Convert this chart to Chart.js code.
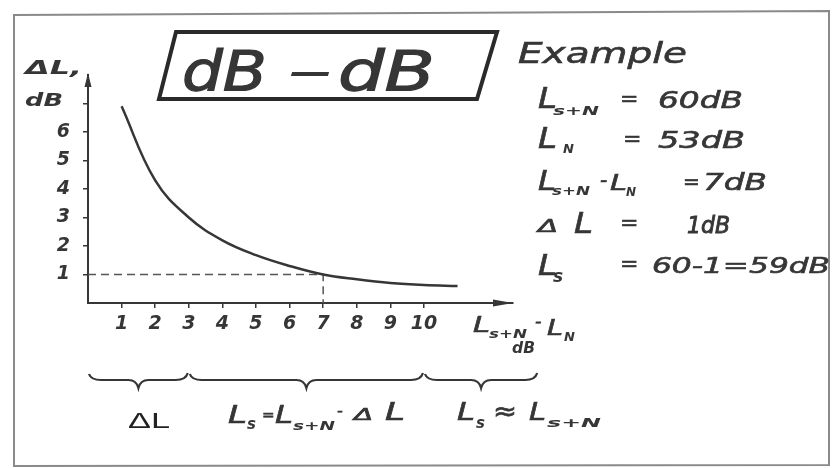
<!DOCTYPE html>
<html>
<head>
<meta charset="utf-8">
<script src="https://cdn.jsdelivr.net/npm/chart.js@4"></script>
<style>
  html, body { margin: 0; background: #fff; }
</style>
</head>
<body>
<canvas id="chart" width="832" height="468"></canvas>
<script>
// level difference L(s+N) - L(N), dB
const levelDiff = [1, 2, 3, 4, 5, 6, 7, 8, 9, 10, 11];
// correction ΔL to subtract from L(s+N), dB
const correction = [6.9, 4.3, 3.0, 2.2, 1.68, 1.3, 1.0, 0.83, 0.7, 0.63, 0.6];

const xTicks = [1, 2, 3, 4, 5, 6, 7, 8, 9, 10];
const yTicks = [1, 2, 3, 4, 5, 6, 7];
const yTickLabels = ['1', '2', '3', '4', '5', '6', ''];

// worked example: 60 dB - 53 dB = 7 dB  ->  ΔL = 1 dB
const exampleDiff = 7;
const exampleCorrection = 1;

// regions marked with braces under the x axis
const braceRanges = [[0, 3], [3, 10], [10, 13.4]];

const ink = '#363636';
const tickFont = { family: 'DejaVu Sans', style: 'italic', weight: 'bold', size: 19 };

// draw text, optionally squeezed/stretched to a given width
function put(ctx, s, x, y, size, o = {}) {
  ctx.font = (o.upright ? '' : 'italic ') + (o.bold ? 'bold ' : '') + size + 'px ' + (o.family || 'DejaVu Sans');
  ctx.fillStyle = o.color || ink;
  ctx.strokeStyle = o.color || ink;
  ctx.textAlign = 'left';
  ctx.textBaseline = 'alphabetic';
  ctx.save();
  ctx.translate(x, y);
  if (o.w) ctx.scale(o.w / ctx.measureText(s).width, 1);
  ctx.fillText(s, 0, 0);
  const thick = o.thick === undefined ? (o.bold || o.upright ? 0 : 0.6) : o.thick;
  if (thick) {
    ctx.lineWidth = thick;
    ctx.strokeText(s, 0, 0);
  }
  ctx.restore();
}

function brace(ctx, x1, x2, y) {
  const m = (x1 + x2) / 2;
  ctx.beginPath();
  ctx.moveTo(x1, y - 6);
  ctx.quadraticCurveTo(x1 + 2, y, x1 + 12, y);
  ctx.lineTo(m - 10, y);
  ctx.quadraticCurveTo(m - 2, y, m, y + 8);
  ctx.quadraticCurveTo(m + 2, y, m + 10, y);
  ctx.lineTo(x2 - 12, y);
  ctx.quadraticCurveTo(x2 - 2, y, x2, y - 7);
  ctx.stroke();
}

const sketch = {
  id: 'sketch',
  afterDraw(chart) {
    const ctx = chart.ctx;
    const xs = chart.scales.x, ys = chart.scales.y;
    const x0 = xs.getPixelForValue(0), y0 = ys.getPixelForValue(0);

    ctx.save();
    // outer frame
    ctx.strokeStyle = '#8a8a8a';
    ctx.lineWidth = 2;
    ctx.beginPath();
    ctx.moveTo(14, 15); ctx.lineTo(829, 11); ctx.lineTo(829, 465); ctx.lineTo(14, 466); ctx.closePath();
    ctx.stroke();

    // axis arrows
    ctx.fillStyle = ink;
    ctx.beginPath();
    ctx.moveTo(xs.right, y0); ctx.lineTo(xs.right - 20, y0 - 3.5); ctx.lineTo(xs.right - 20, y0 + 3.5); ctx.closePath();
    ctx.fill();
    ctx.beginPath();
    ctx.moveTo(x0, ys.top - 2); ctx.lineTo(x0 - 3.5, ys.top + 12); ctx.lineTo(x0 + 3.5, ys.top + 12); ctx.closePath();
    ctx.fill();

    // title box
    ctx.strokeStyle = '#2a2a2a';
    ctx.lineWidth = 4;
    ctx.beginPath();
    ctx.moveTo(176, 32); ctx.lineTo(497, 32); ctx.lineTo(477, 99); ctx.lineTo(159, 99); ctx.closePath();
    ctx.stroke();
    put(ctx, 'dB', 182, 90, 56, { w: 85, thick: 1.2 });
    put(ctx, '–', 287, 89, 56, { w: 46, thick: 0 });
    put(ctx, 'dB', 338, 90, 56, { w: 97, thick: 1.2 });

    // axis titles
    put(ctx, 'ΔL,', 25, 74, 19, { bold: true, w: 57 });
    put(ctx, 'dB', 25, 106, 18, { bold: true, w: 38 });
    put(ctx, 'L', 473, 332, 21, { w: 17 });
    put(ctx, 's+N', 489, 338, 12, { bold: true, w: 38 });
    put(ctx, '-', 535, 327, 18);
    put(ctx, 'L', 547, 335, 21, { w: 16 });
    put(ctx, 'N', 564, 341, 13, { bold: true });
    put(ctx, 'dB', 512, 353, 15, { bold: true, w: 23 });

    // worked example
    put(ctx, 'Example', 518, 63, 28, { w: 169 });
    put(ctx, 'L', 538, 108, 28, { w: 19 });
    put(ctx, 's+N', 553, 115, 13, { bold: true, w: 46 });
    put(ctx, '=', 620, 106, 22);
    put(ctx, '60dB', 658, 108, 23, { w: 85 });

    put(ctx, 'L', 538, 148, 28, { w: 19 });
    put(ctx, 'N', 563, 153, 13, { bold: true });
    put(ctx, '=', 623, 146, 22);
    put(ctx, '53dB', 658, 148, 23, { w: 87 });

    put(ctx, 'L', 538, 190, 26, { w: 18 });
    put(ctx, 's+N', 552, 195, 12, { bold: true, w: 38 });
    put(ctx, '-', 600, 187, 20);
    put(ctx, 'L', 610, 190, 22, { w: 17 });
    put(ctx, 'N', 626, 196, 12, { bold: true });
    put(ctx, '=', 683, 188, 20);
    put(ctx, '7dB', 703, 190, 23, { w: 64 });

    put(ctx, 'Δ', 538, 232, 17, { w: 20 });
    put(ctx, 'L', 574, 233, 28, { w: 19 });
    put(ctx, '=', 620, 230, 22);
    put(ctx, '1dB', 687, 233, 23, { w: 43, thick: 0.9 });

    put(ctx, 'L', 538, 275, 28, { w: 19 });
    put(ctx, 's', 553, 282, 17, { bold: true });
    put(ctx, '=', 620, 271, 22);
    put(ctx, '60-1=59dB', 652, 273, 22, { w: 178 });

    // braces and what each region means
    ctx.strokeStyle = ink;
    ctx.lineWidth = 2.2;
    braceRanges.forEach(([a, b]) => brace(ctx, xs.getPixelForValue(a) + 1, xs.getPixelForValue(b) - 1, 380));

    put(ctx, 'ΔL', 128, 428, 22, { upright: true, family: 'Liberation Sans', color: '#222', w: 42 });

    put(ctx, 'L', 228, 423, 24, { w: 19 });
    put(ctx, 's', 247, 429, 15, { bold: true });
    put(ctx, '=', 262, 420, 15);
    put(ctx, 'L', 275, 423, 24, { w: 18 });
    put(ctx, 's+N', 293, 430, 13, { bold: true, w: 42 });
    put(ctx, '-', 337, 416, 16);
    put(ctx, 'Δ', 354, 420, 16, { w: 19 });
    put(ctx, 'L', 385, 420, 24, { w: 20 });

    put(ctx, 'L', 457, 420, 24, { w: 18 });
    put(ctx, 's', 476, 428, 15, { bold: true });
    put(ctx, '≈', 493, 420, 26, { w: 24 });
    put(ctx, 'L', 529, 420, 24, { w: 17 });
    put(ctx, 's+N', 547, 427, 13, { bold: true, w: 54 });
    ctx.restore();
  }
};

const ctx = document.getElementById('chart').getContext('2d');
const chart = new Chart(ctx, {
  type: 'line',
  data: {
    datasets: [
      {
        data: levelDiff.map((x, i) => ({ x, y: correction[i] })),
        borderColor: ink,
        borderWidth: 2.5,
        pointRadius: 0,
        tension: 0.4
      },
      {
        // dashed read-off lines for the example
        data: [
          { x: 0, y: exampleCorrection },
          { x: exampleDiff, y: exampleCorrection },
          { x: exampleDiff, y: 0 }
        ],
        borderColor: '#555',
        borderWidth: 1.5,
        borderDash: [8, 5],
        pointRadius: 0,
        tension: 0
      }
    ]
  },
  options: {
    responsive: false,
    animation: false,
    layout: { padding: { left: 0, top: 75, right: 319, bottom: 135 } },
    plugins: { legend: { display: false }, tooltip: { enabled: false } },
    scales: {
      x: {
        type: 'linear',
        min: 0,
        max: 12.65,
        afterBuildTicks: s => { s.ticks = xTicks.map(v => ({ value: v })); },
        afterFit: s => { s.height = 30; },
        border: { color: ink, width: 2 },
        grid: { drawOnChartArea: false, color: ink, lineWidth: 1.5, tickLength: 5 },
        ticks: { color: ink, padding: 5, font: tickFont, maxRotation: 0, autoSkip: false, callback: v => String(v) }
      },
      y: {
        type: 'linear',
        min: 0,
        max: 8,
        afterBuildTicks: s => { s.ticks = yTicks.map(v => ({ value: v })); },
        afterFit: s => { s.width = 88; },
        border: { color: ink, width: 2 },
        grid: { drawOnChartArea: false, color: ink, lineWidth: 1.5, tickLength: 5 },
        ticks: { color: ink, padding: 13, font: tickFont, autoSkip: false, callback: (v, i) => yTickLabels[i] }
      }
    }
  },
  plugins: [sketch]
});
</script>
</body>
</html>
